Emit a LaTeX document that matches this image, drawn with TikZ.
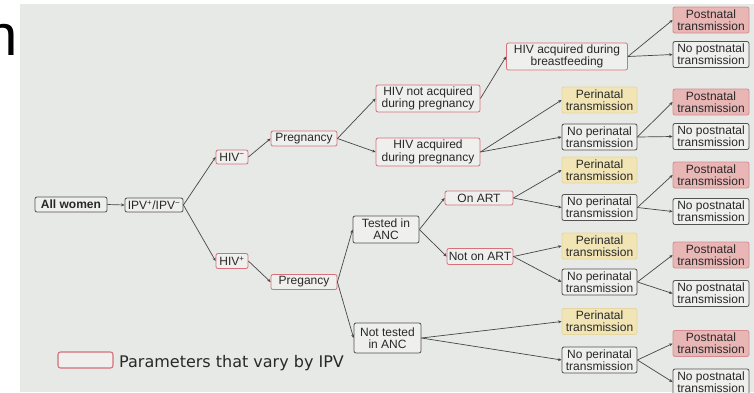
\documentclass[tikz,border=0pt]{standalone}
\usepackage{fontspec}
\setmainfont{Liberation Sans}
\newfontfamily\legendfont{DejaVu Sans}
\usetikzlibrary{arrows.meta}

\definecolor{panelbg}{RGB}{230,233,229}
\definecolor{nodefill}{RGB}{239,240,238}
\definecolor{redline}{RGB}{214,112,122}
\definecolor{darkline}{RGB}{82,82,82}
\definecolor{linecol}{RGB}{70,70,70}
\definecolor{txt}{RGB}{40,40,40}
\definecolor{postfill}{RGB}{233,182,182}
\definecolor{postdraw}{RGB}{214,140,146}
\definecolor{perifill}{RGB}{241,229,182}
\definecolor{peridraw}{RGB}{230,214,160}

\begin{document}
\begin{tikzpicture}[x=1pt,y=-1pt,
  box/.style={rounded corners=2pt, align=center, inner xsep=1pt, inner ysep=0.3pt,
    font=\fontsize{12}{12.3}\selectfont, text=txt, line width=0.8pt},
  redbox/.style={box, draw=redline, fill=nodefill},
  greybox/.style={box, draw=darkline, fill=nodefill},
  postbox/.style={box, draw=postdraw, fill=postfill, minimum width=76pt, minimum height=26pt},
  nopostbox/.style={greybox, minimum width=76pt, minimum height=26pt},
  peribox/.style={box, draw=peridraw, fill=perifill, minimum width=75pt, minimum height=26pt},
  noperibox/.style={greybox, minimum width=75pt, minimum height=26pt},
  link/.style={draw=linecol, line width=0.7pt, -{Stealth[length=3.5pt,width=3pt]}},
]
\useasboundingbox (0,0) rectangle (754,392);
\clip (0,0) rectangle (754,392);
\fill[white] (0,0) rectangle (754,392);
\fill[panelbg] (20,4) rectangle (754,392);

% heading letter at the left edge
\node[anchor=base east, inner sep=0pt, font=\fontsize{58}{58}\selectfont] (head) at (18,55) {n};

% root of the tree
\node[greybox, font=\bfseries\fontsize{12}{12.3}\selectfont, minimum width=72pt, minimum height=15pt] (allw) at (71,204.5) {All women};
\node[greybox, minimum width=58pt, minimum height=14pt] (ipv) at (154,205) {IPV\textsuperscript{+}/IPV\textsuperscript{−}};

% HIV status
\node[redbox, minimum width=32pt, minimum height=14pt] (hivneg) at (232,157) {HIV\textsuperscript{−}};
\node[redbox, minimum width=32pt, minimum height=15pt] (hivpos) at (232,261) {HIV\textsuperscript{+}};

% pregnancy
\node[redbox, minimum width=66pt, minimum height=15pt] (pregA) at (304,138.5) {Pregnancy};
\node[redbox, minimum width=66pt, minimum height=15pt] (pregB) at (304,282) {Pregancy};

% HIV-negative branch
\node[redbox, minimum width=104pt, minimum height=27pt] (notacq) at (428,98.5) {HIV not acquired\\during pregnancy};
\node[redbox, minimum width=104pt, minimum height=28pt] (acq) at (428,152) {HIV acquired\\during pregnancy};
\node[redbox, minimum width=121pt, minimum height=27pt] (bf) at (567,56.5) {HIV acquired during\\breastfeeding};

% HIV-positive branch
\node[greybox, minimum width=66pt, minimum height=27pt] (tested) at (386,229.5) {Tested in\\ANC};
\node[greybox, minimum width=67pt, minimum height=30pt] (ntested) at (387.5,338) {Not tested\\in ANC};
\node[redbox, minimum width=68pt, minimum height=14pt] (onart) at (479,198) {On ART};
\node[redbox, minimum width=66pt, minimum height=16pt] (notart) at (480,256.5) {Not on ART};

% perinatal outcomes
\node[peribox] (peri1) at (599.5,100) {Perinatal\\transmission};
\node[noperibox] (noperi1) at (599.5,137) {No perinatal\\transmission};
\node[peribox] (peri2) at (599.5,170) {Perinatal\\transmission};
\node[noperibox] (noperi2) at (599.5,207.5) {No perinatal\\transmission};
\node[peribox] (peri3) at (599.5,246) {Perinatal\\transmission};
\node[noperibox] (noperi3) at (599.5,282) {No perinatal\\transmission};
\node[peribox] (peri4) at (599.5,321.5) {Perinatal\\transmission};
\node[noperibox] (noperi4) at (599.5,360) {No perinatal\\transmission};

% postnatal outcomes
\node[postbox] (post1) at (711,20) {Postnatal\\transmission};
\node[nopostbox] (nopost1) at (711,54.5) {No postnatal\\transmission};
\node[postbox] (post2) at (711,102) {Postnatal\\transmission};
\node[nopostbox] (nopost2) at (711,136.5) {No postnatal\\transmission};
\node[postbox] (post3) at (711,175) {Postnatal\\transmission};
\node[nopostbox] (nopost3) at (711,211.5) {No postnatal\\transmission};
\node[postbox] (post4) at (711,255) {Postnatal\\transmission};
\node[nopostbox] (nopost4) at (711,293.5) {No postnatal\\transmission};
\node[postbox] (post5) at (711,343.5) {Postnatal\\transmission};
\node[nopostbox] (nopost5) at (711,382) {No postnatal\\transmission};

% connectors
\path[link] (allw.east) -- (ipv.west);
\path[link] (ipv.east) -- (hivneg.west);
\path[link] (ipv.east) -- (hivpos.west);
\path[link] (hivneg.east) -- (pregA.west);
\path[link] (hivpos.east) -- (pregB.west);
\path[link] (pregA.east) -- (notacq.west);
\path[link] (pregA.east) -- (acq.west);
\path[link] (notacq.east) -- (bf.west);
\path[link] (bf.east) -- (post1.west);
\path[link] (bf.east) -- (nopost1.west);
\path[link] (acq.east) -- (peri1.west);
\path[link] (acq.east) -- (noperi1.west);
\path[link] (noperi1.east) -- (post2.west);
\path[link] (noperi1.east) -- (nopost2.west);
\path[link] (pregB.east) -- (tested.west);
\path[link] (pregB.east) -- (ntested.west);
\path[link] (tested.east) -- (onart.west);
\path[link] (tested.east) -- (notart.west);
\path[link] (onart.east) -- (peri2.west);
\path[link] (onart.east) -- (noperi2.west);
\path[link] (noperi2.east) -- (post3.west);
\path[link] (noperi2.east) -- (nopost3.west);
\path[link] (notart.east) -- (peri3.west);
\path[link] (notart.east) -- (noperi3.west);
\path[link] (noperi3.east) -- (post4.west);
\path[link] (noperi3.east) -- (nopost4.west);
\path[link] (ntested.east) -- (peri4.west);
\path[link] (ntested.east) -- (noperi4.west);
\path[link] (noperi4.east) -- (post5.west);
\path[link] (noperi4.east) -- (nopost5.west);

% legend
\node[draw=redline, fill=nodefill, rounded corners=2.5pt, line width=1.1pt,
  minimum width=55pt, minimum height=16pt, inner sep=0pt] (legbox) at (85.5,360) {};
\node[anchor=base west, inner sep=0pt, text=txt, font=\legendfont\fontsize{16}{16}\selectfont] (legtext) at (119,367) {Parameters that vary by IPV};
\end{tikzpicture}
\end{document}
